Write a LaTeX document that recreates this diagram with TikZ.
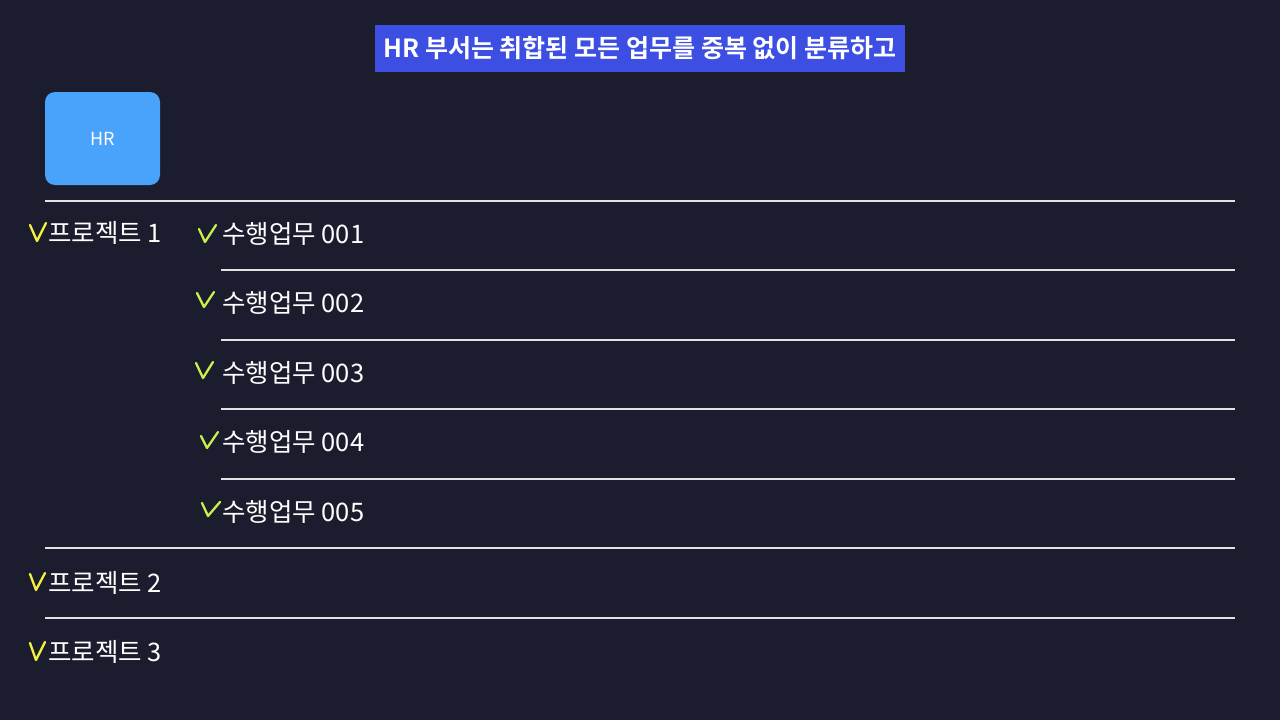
\documentclass[tikz,border=0pt]{standalone}
\usepackage{fontspec}
\setmainfont{Noto Sans CJK KR}
\newfontfamily\titlefont{Noto Sans CJK KR Bold}

\definecolor{bgnavy}{HTML}{1B1D2E}
\definecolor{titleblue}{HTML}{3D4FE2}
\definecolor{hrblue}{HTML}{4AA3FA}
\definecolor{projyellow}{HTML}{F2F23C}
\definecolor{tasklime}{HTML}{C6F04C}
\definecolor{rulegray}{HTML}{E2E2E2}

\tikzset{
  label/.style={anchor=west, inner sep=0pt, text=white, font=\fontsize{25.5}{30}\selectfont},
  rule/.style={draw=rulegray, line width=1.4pt},
  tick/.style={line width=2.3pt, line cap=round, line join=round}
}
% a hand drawn check mark: start, bottom, end
\newcommand{\tick}[4]{\draw[tick,#4] #1 -- #2 -- #3;}

\begin{document}
\begin{tikzpicture}[x=1pt,y=-1pt]
\fill[bgnavy] (0,0) rectangle (1280,720);
\useasboundingbox (0,0) rectangle (1280,720);

% title
\node (title) at (640,48.5) [fill=titleblue, minimum width=530pt, minimum height=47pt, inner sep=0pt,
  text=white, font=\titlefont\fontsize{25}{30}\selectfont] {HR 부서는 취합된 모든 업무를 중복 없이 분류하고};

% department box
\node (hr) at (102.5,138.5) [fill=hrblue, rounded corners=10pt, minimum width=115pt, minimum height=93pt,
  inner sep=0pt, text=white, font=\fontsize{18}{22}\selectfont] {HR};

% separators
\draw[rule] (45,201) -- (1235,201);
\foreach \y in {270,340,409,479}
  \draw[rule] (221,\y) -- (1235,\y);
\draw[rule] (45,548) -- (1235,548);
\draw[rule] (45,618) -- (1235,618);

% projects
\node (p1) [label] at (48,233) {프로젝트 1};
\node (p2) [label] at (48,583) {프로젝트 2};
\node (p3) [label] at (48,652) {프로젝트 3};
\tick{(30,225)}{(37,241)}{(46,223)}{projyellow}
\tick{(30,574)}{(36,590)}{(45,573)}{projyellow}
\tick{(30,643)}{(36,660)}{(45,642)}{projyellow}

% tasks of project 1
\node (t1) [label] at (222,234) {수행업무 001};
\node (t2) [label] at (222,303) {수행업무 002};
\node (t3) [label] at (222,373) {수행업무 003};
\node (t4) [label] at (222,442) {수행업무 004};
\node (t5) [label] at (222,512) {수행업무 005};
\tick{(199,229)}{(205,242)}{(216,225)}{tasklime}
\tick{(197,293)}{(204,307)}{(214,292)}{tasklime}
\tick{(196,363)}{(203,378)}{(213,362)}{tasklime}
\tick{(201,436)}{(207,448)}{(218,432)}{tasklime}
\tick{(202,503)}{(208,516)}{(220,502)}{tasklime}
\end{tikzpicture}
\end{document}
